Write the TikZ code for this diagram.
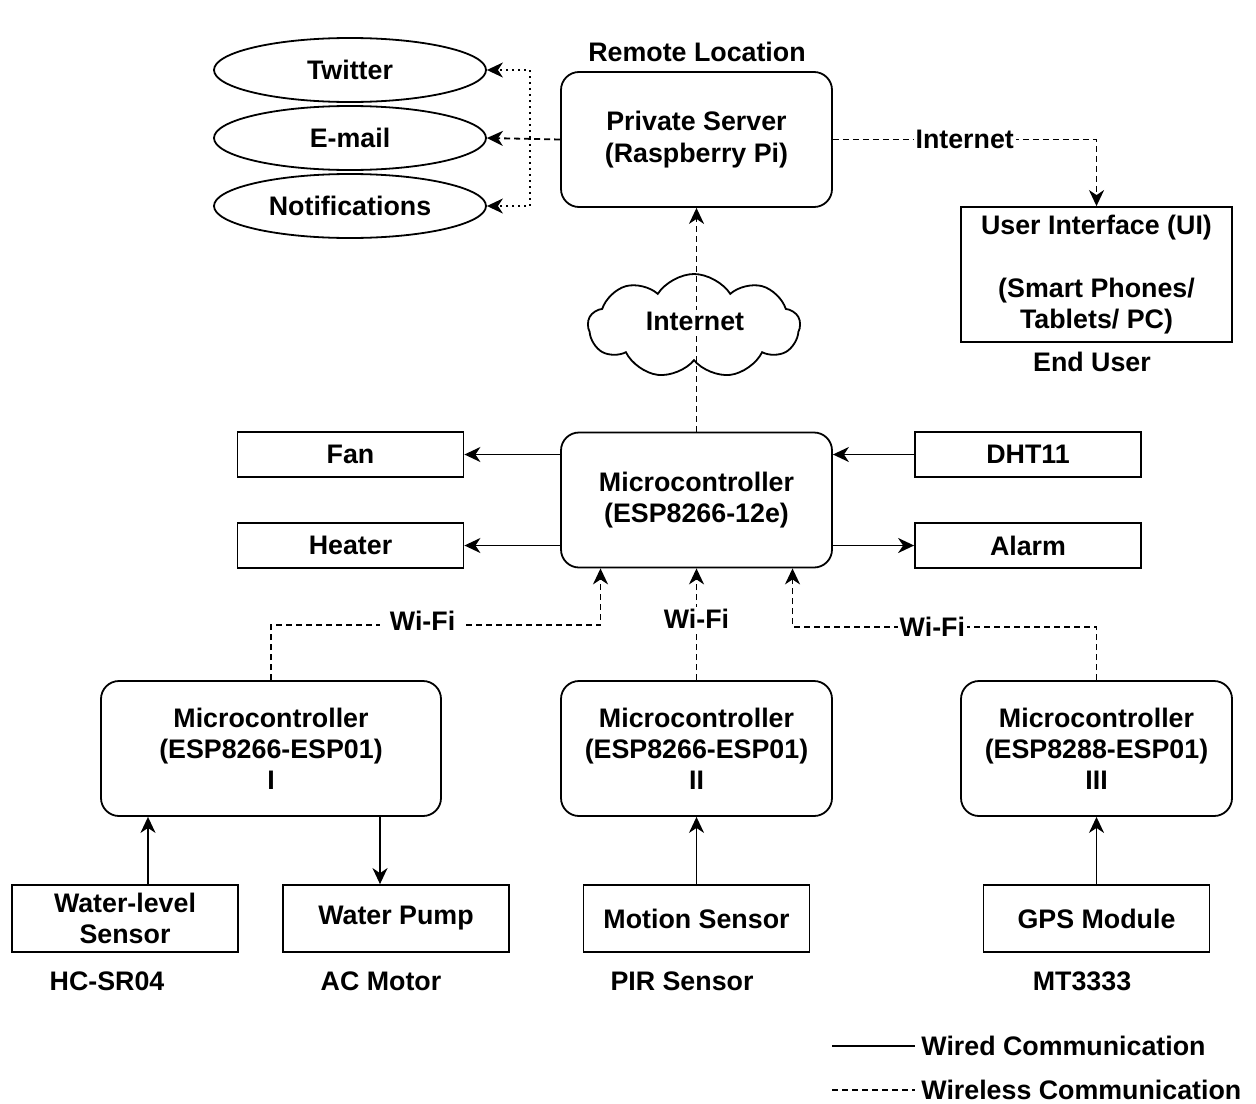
\documentclass[tikz,border=0pt]{standalone}
\usepackage{fontspec}
\setmainfont{Liberation Sans}
\usetikzlibrary{arrows.meta,shapes.geometric,shapes.symbols}

\begin{document}
\begin{tikzpicture}[x=0.5pt,y=0.5pt,yscale=-1,
  every node/.style={font=\fontsize{13.4}{15.6}\selectfont\bfseries},
  wire/.style={line width=0.9pt,-{Stealth[length=8pt,width=7.5pt,inset=2.5pt]}},
  wless/.style={wire,dash pattern=on 3pt off 2pt},
  dots/.style={wire,dash pattern=on 0.8pt off 2.2pt},
  blk/.style={draw,line width=0.9pt,minimum width=113pt,minimum height=22.5pt,align=center},
  sens/.style={blk,minimum height=33.5pt},
  mcu/.style={draw,line width=0.9pt,rounded corners=9pt,minimum width=135.5pt,minimum height=67.5pt,align=center},
  oval/.style={draw,ellipse,line width=0.9pt,minimum width=136pt,minimum height=32pt},
  lbl/.style={fill=white,inner sep=1pt}]
\useasboundingbox (0,0) rectangle (1256,1103);

%Shape: Ellipses
\node[oval] (tw) at (350,70) {Twitter};
\node[oval] (em) at (350,138) {E-mail};
\node[oval] (nt) at (350,206) {Notifications};

%Shape: Rounded Rect
\node[mcu] (srv) at (696.5,139.5) {Private Server\\(Raspberry Pi)};
% Text Node
\node (remote) at (697,52) {Remote Location};

%Shape: Rect
\node[blk,minimum width=135.5pt,minimum height=67.5pt] (ui) at (1096.5,274.5)
  {User Interface (UI)\\[15.6pt](Smart Phones/\\Tablets/ PC)};
% Text Node
\node (enduser) at (1092,362) {End User};

%Shape: Rounded Rect
\node[mcu] (main) at (696.5,500) {Microcontroller\\(ESP8266-12e)};
\node[blk] (fan) at (350.5,454.5) {Fan};
\node[blk] (heater) at (350.5,545.5) {Heater};
\node[blk] (dht) at (1028,454.5) {DHT11};
\node[blk] (alarm) at (1028,545.5) {Alarm};

%Shape: Rounded Rect
\node[mcu,minimum width=170pt] (mA) at (271,748.5) {Microcontroller\\(ESP8266-ESP01)\\I};
\node[mcu] (mB) at (696.5,748.5) {Microcontroller\\(ESP8266-ESP01)\\II};
\node[mcu] (mC) at (1096.5,748.5) {Microcontroller\\(ESP8288-ESP01)\\III};

%Shape: Rect
\node[sens] (wlvl) at (125,918.5) {Water-level\\Sensor};
\node[sens] (pump) at (396,918.5) {Water Pump};
\node[sens] (motion) at (696.5,918.5) {Motion Sensor};
\node[sens] (gps) at (1096.5,918.5) {GPS Module};

% Text Node
\node (hcsr) at (107,981) {HC-SR04};
\node (acm) at (381,981) {AC Motor};
\node (pir) at (682,981) {PIR Sensor};
\node (mt) at (1082,981) {MT3333};

%Straight Lines
\coordinate (dj) at (530,138);
\draw[wless] (srv.west) -- (em.east);
\draw[dots] (dj) |- (tw.east);
\draw[dots] (dj) |- (nt.east);
\draw[wless] (srv.east) -| node[lbl,pos=0.25] (inetB) {Internet} (ui.north);

\draw[wless] (main.north) -- (srv.south);
%Shape: Cloud
\node[draw,cloud,cloud puffs=9,cloud puff arc=115,aspect=2,line width=0.9pt,
  minimum width=106pt,minimum height=52pt] (cloud) at (694,326) {};
\node[lbl] (inetA) at (695,321) {Internet};

\draw[wire] (main.west |- fan.east) -- (fan.east);
\draw[wire] (main.west |- heater.east) -- (heater.east);
\draw[wire] (dht.west) -- (main.east |- dht.west);
\draw[wire] (main.east |- alarm.west) -- (alarm.west);

\draw[wless] (mA.north) -- ++(0,-55) -| node[lbl,pos=0.23,inner xsep=5pt,yshift=2pt] (wifiA) {Wi-Fi} ([xshift=-48pt]main.south);
\draw[wless] (mB.north) -- node[lbl,pos=0.55] (wifiB) {Wi-Fi} (main.south);
\draw[wless] (mC.north) -- ++(0,-53) -| node[lbl,pos=0.27] (wifiC) {Wi-Fi} ([xshift=48pt]main.south);

\coordinate (wlin) at ([xshift=11.5pt]wlvl.north);
\coordinate (pmin) at ([xshift=-8pt]pump.north);
\draw[wire] (wlin) -- (wlin |- mA.south);
\draw[wire] (pmin |- mA.south) -- (pmin);
\draw[wire] (motion.north) -- (mB.south);
\draw[wire] (gps.north) -- (mC.south);

% Legend
\node[anchor=west,inner sep=3pt] (wired) at (915,1046) {Wired Communication};
\node[anchor=west,inner sep=3pt] (wirels) at (915,1090) {Wireless Communication};
\coordinate (lgA) at (832,1046);
\coordinate (lgB) at (832,1090);
\draw[line width=0.9pt] (lgA) -- (wired.west);
\draw[line width=0.9pt,dash pattern=on 3pt off 2pt] (lgB) -- (wirels.west);

\end{tikzpicture}
\end{document}
